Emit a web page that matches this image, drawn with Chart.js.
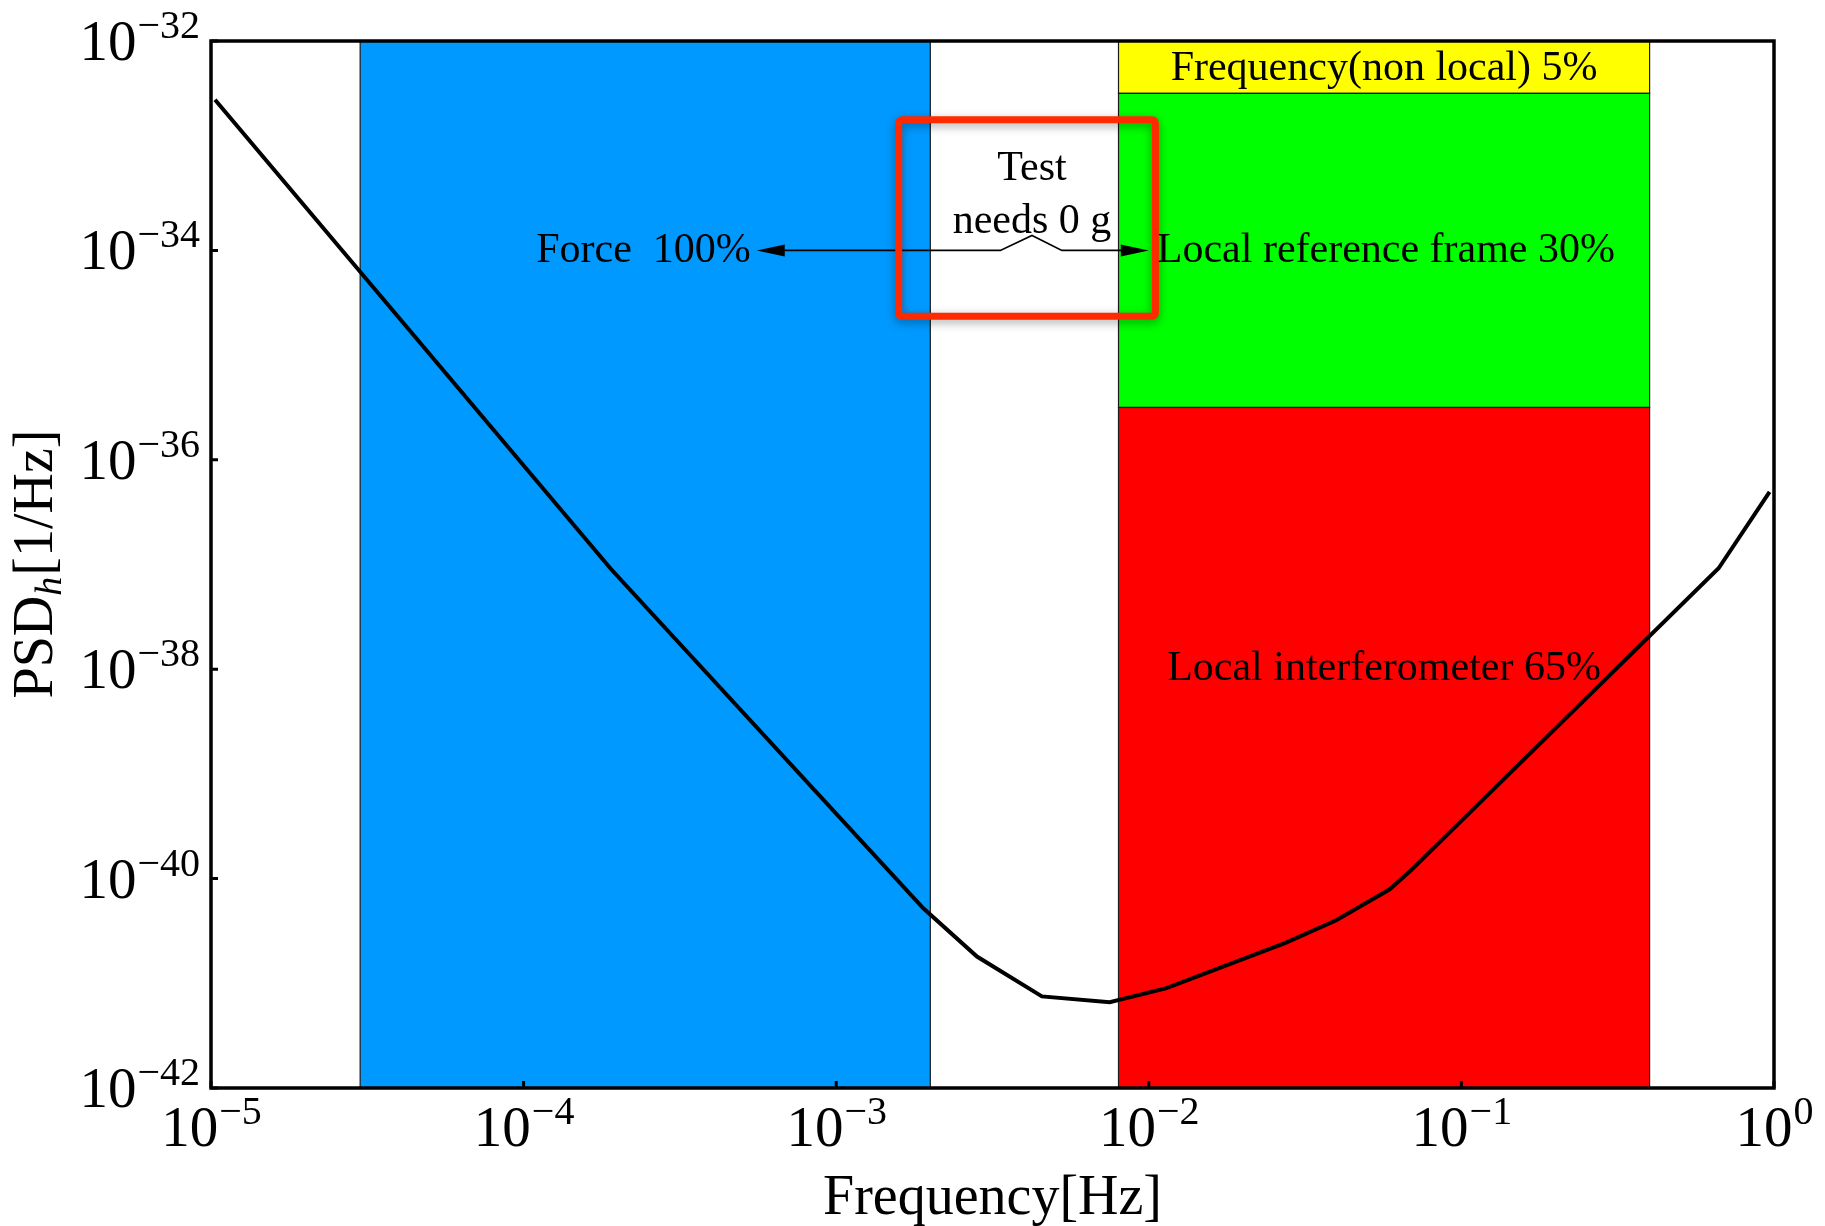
<!DOCTYPE html>
<html><head><meta charset="utf-8">
<script src="https://cdn.jsdelivr.net/npm/chart.js@4.4.0/dist/chart.umd.min.js"></script>
<style>html,body{margin:0;padding:0;background:#fff;} canvas{display:block;}</style>
</head><body>
<canvas id="c" width="1825" height="1226" style="width:1825px;height:1226px"></canvas>
<script>
// ---- data ----
const frequency = [1.03e-5, 1.9e-4, 1.9e-3, 2.82e-3, 4.55e-3, 7.5e-3, 1.14e-2, 2.75e-2, 3.98e-2, 5.9e-2, 6.9e-2, 0.665, 0.968];
const psd       = [2.75e-33, 9.1e-38, 5.2e-41, 1.8e-41, 7.5e-42, 6.6e-42, 9.0e-42, 2.45e-41, 4.0e-41, 7.9e-41, 1.2e-40, 9.2e-38, 4.95e-37];

const xTickValues = [1e-5, 1e-4, 1e-3, 1e-2, 1e-1, 1];
const xTickExponents = ['\u22125', '\u22124', '\u22123', '\u22122', '\u22121', '0'];
const yTickValues = [1e-42, 1e-40, 1e-38, 1e-36, 1e-34, 1e-32];
const yTickExponents = ['\u221242', '\u221240', '\u221238', '\u221236', '\u221234', '\u221232'];

const bandLabels   = ['Force  100%', 'Frequency(non local) 5%', 'Local reference frame 30%', 'Local interferometer 65%'];
const bandColors   = ['#0099ff', '#ffff00', '#00ff00', '#ff0000'];
const bandFreqLow  = [3e-5, 8e-3, 8e-3, 8e-3];
const bandFreqHigh = [2e-3, 0.4, 0.4, 0.4];
const bandPsdLow   = [1e-42, 3.162e-33, 3.162e-36, 1e-42];
const bandPsdHigh  = [1e-32, 1e-32, 3.162e-33, 3.162e-36];

const arrowFreq = [5.57e-4, 1e-2];   // left / right tips
const arrowPsd = 1e-34;
const braceFreq = [3.35e-3, 4.23e-3, 5.27e-3];
const bracePeakPsd = 1.39e-34;
const testLines = ['Test', 'needs 0 g'];
const boxFreq = [1.585e-3, 1.05e-2];
const boxPsd = [1.77e-33, 2.35e-35];

const xTitle = 'Frequency[Hz]';
const yTitleParts = ['PSD', 'h', '[1/Hz]'];

const SERIF = '"Liberation Serif", "Times New Roman", serif';

const decor = {
  id: 'decor',
  beforeDatasetsDraw(chart) {
    const {ctx, scales: {x, y}} = chart;
    ctx.save();
    for (let i = 0; i < bandColors.length; i++) {
      const x0 = x.getPixelForValue(bandFreqLow[i]), x1 = x.getPixelForValue(bandFreqHigh[i]);
      const y0 = y.getPixelForValue(bandPsdHigh[i]), y1 = y.getPixelForValue(bandPsdLow[i]);
      ctx.fillStyle = bandColors[i];
      ctx.fillRect(x0, y0, x1 - x0, y1 - y0);
    }
    ctx.strokeStyle = '#1a1a1a';
    ctx.lineWidth = 1.2;
    for (let i = 0; i < bandColors.length; i++) {
      const x0 = x.getPixelForValue(bandFreqLow[i]), x1 = x.getPixelForValue(bandFreqHigh[i]);
      const y0 = y.getPixelForValue(bandPsdHigh[i]), y1 = y.getPixelForValue(bandPsdLow[i]);
      ctx.strokeRect(x0, y0, x1 - x0, y1 - y0);
    }
    ctx.restore();
  },
  afterDatasetsDraw(chart) {
    const {ctx, chartArea: ca, scales: {x, y}} = chart;
    const X = v => x.getPixelForValue(v), Y = v => y.getPixelForValue(v);
    ctx.save();
    ctx.fillStyle = '#000';
    ctx.textBaseline = 'alphabetic';

    // band texts
    ctx.font = '42px ' + SERIF;
    const ay = Y(arrowPsd);
    const axL = X(arrowFreq[0]), axR = X(arrowFreq[1]);
    ctx.textAlign = 'right';
    ctx.fillText(bandLabels[0], axL - 6, ay + 12);
    ctx.textAlign = 'center';
    const cx = (X(bandFreqLow[1]) + X(bandFreqHigh[1])) / 2;
    ctx.fillText(bandLabels[1], cx, (Y(bandPsdHigh[1]) + Y(bandPsdLow[1])) / 2 + 13);
    ctx.textAlign = 'left';
    ctx.fillText(bandLabels[2], axR + 8, ay + 12);
    ctx.textAlign = 'center';
    ctx.fillText(bandLabels[3], cx, Y(Math.pow(10, -38.1)));

    // Test needs 0 g
    const bx = X(braceFreq[1]);
    ctx.fillText(testLines[0], bx, ay - 70);
    ctx.fillText(testLines[1], bx, ay - 17);

    // arrow line with bump
    ctx.strokeStyle = '#000';
    ctx.lineWidth = 1.6;
    ctx.beginPath();
    ctx.moveTo(axL + 20, ay);
    ctx.lineTo(X(braceFreq[0]), ay);
    ctx.lineTo(bx, Y(bracePeakPsd));
    ctx.lineTo(X(braceFreq[2]), ay);
    ctx.lineTo(axR - 20, ay);
    ctx.stroke();
    // arrow heads
    ctx.beginPath();
    ctx.moveTo(axL, ay); ctx.lineTo(axL + 28, ay - 6); ctx.lineTo(axL + 28, ay + 6); ctx.closePath(); ctx.fill();
    ctx.beginPath();
    ctx.moveTo(axR, ay); ctx.lineTo(axR - 28, ay - 6); ctx.lineTo(axR - 28, ay + 6); ctx.closePath(); ctx.fill();

    // red highlight box
    const rx0 = X(boxFreq[0]), rx1 = X(boxFreq[1]), ry0 = Y(boxPsd[0]), ry1 = Y(boxPsd[1]);
    ctx.save();
    ctx.shadowColor = 'rgba(0,0,0,0.35)';
    ctx.shadowBlur = 10;
    ctx.shadowOffsetY = 3;
    ctx.strokeStyle = '#ff2a00';
    ctx.lineWidth = 7;
    ctx.lineJoin = 'round';
    const r = 4;
    ctx.beginPath();
    ctx.moveTo(rx0 + r, ry0);
    ctx.lineTo(rx1 - r, ry0); ctx.quadraticCurveTo(rx1, ry0, rx1, ry0 + r);
    ctx.lineTo(rx1, ry1 - r); ctx.quadraticCurveTo(rx1, ry1, rx1 - r, ry1);
    ctx.lineTo(rx0 + r, ry1); ctx.quadraticCurveTo(rx0, ry1, rx0, ry1 - r);
    ctx.lineTo(rx0, ry0 + r); ctx.quadraticCurveTo(rx0, ry0, rx0 + r, ry0);
    ctx.closePath();
    ctx.stroke();
    ctx.restore();

    // frame
    ctx.strokeStyle = '#000';
    ctx.lineWidth = 3.5;
    ctx.strokeRect(ca.left, ca.top, ca.right - ca.left, ca.bottom - ca.top);

    // tick marks
    ctx.lineWidth = 3;
    ctx.beginPath();
    yTickValues.forEach(v => { const py = Y(v); ctx.moveTo(ca.left, py); ctx.lineTo(ca.left + 7, py); });
    xTickValues.forEach(v => { const px = X(v); ctx.moveTo(px, ca.bottom); ctx.lineTo(px, ca.bottom - 7); });
    ctx.stroke();

    // tick labels
    const baseFont = '57px ' + SERIF, supFont = '40px ' + SERIF;
    ctx.textAlign = 'left';
    yTickValues.forEach((v, i) => {
      const py = Y(v);
      ctx.font = baseFont; const wb = ctx.measureText('10').width;
      ctx.font = supFont; const ws = ctx.measureText(yTickExponents[i]).width;
      const x0 = ca.left - 12 - wb - ws;
      ctx.font = baseFont; ctx.fillText('10', x0, py + 19);
      ctx.font = supFont; ctx.fillText(yTickExponents[i], x0 + wb + 1, py - 3);
    });
    xTickValues.forEach((v, i) => {
      const px = X(v);
      ctx.font = baseFont; const wb = ctx.measureText('10').width;
      ctx.font = supFont; const ws = ctx.measureText(xTickExponents[i]).width;
      const x0 = px - (wb + ws) / 2;
      ctx.font = baseFont; ctx.fillText('10', x0, ca.bottom + 58);
      ctx.font = supFont; ctx.fillText(xTickExponents[i], x0 + wb + 1, ca.bottom + 36);
    });

    // axis titles
    ctx.font = '56px ' + SERIF;
    ctx.textAlign = 'center';
    ctx.fillText(xTitle, (ca.left + ca.right) / 2, ca.bottom + 126);

    ctx.save();
    const cy = (ca.top + ca.bottom) / 2;
    ctx.translate(52, cy);
    ctx.rotate(-Math.PI / 2);
    ctx.textAlign = 'left';
    const f1 = '56px ' + SERIF, f2 = 'italic 38px ' + SERIF;
    ctx.font = f1; const w1 = ctx.measureText(yTitleParts[0]).width, w3 = ctx.measureText(yTitleParts[2]).width;
    ctx.font = f2; const w2 = ctx.measureText(yTitleParts[1]).width;
    let sx = -(w1 + w2 + w3) / 2;
    ctx.font = f1; ctx.fillText(yTitleParts[0], sx, 0); sx += w1;
    ctx.font = f2; ctx.fillText(yTitleParts[1], sx, 9); sx += w2 + 1;
    ctx.font = f1; ctx.fillText(yTitleParts[2], sx, 0);
    ctx.restore();

    ctx.restore();
  }
};

new Chart(document.getElementById('c').getContext('2d'), {
  type: 'line',
  data: {
    datasets: [{
      data: frequency.map((f, i) => ({x: f, y: psd[i]})),
      borderColor: '#000',
      borderWidth: 4,
      pointRadius: 0,
      tension: 0,
      fill: false
    }]
  },
  options: {
    responsive: false,
    animation: false,
    devicePixelRatio: 1,
    layout: {padding: {left: 211, top: 41, right: 51, bottom: 138}},
    plugins: {legend: {display: false}, tooltip: {enabled: false}},
    scales: {
      x: {type: 'logarithmic', display: false, min: 1e-5, max: 1},
      y: {type: 'logarithmic', display: false, min: 1e-42, max: 1e-32}
    }
  },
  plugins: [decor]
});
</script>
</body></html>
